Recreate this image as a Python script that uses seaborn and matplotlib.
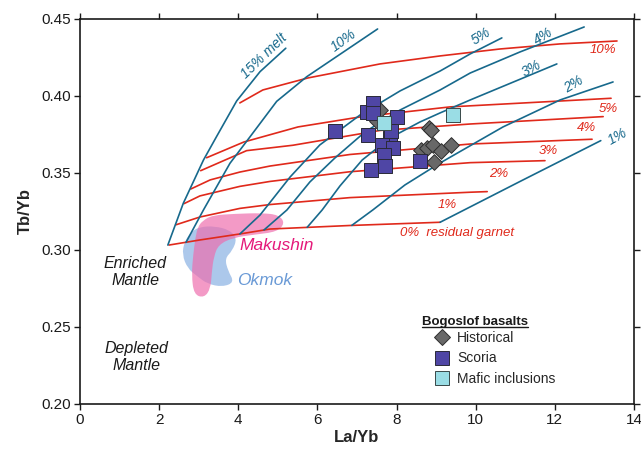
import numpy as np
import pandas as pd
import matplotlib
matplotlib.use("Agg")
import matplotlib.pyplot as plt
from matplotlib.path import Path
from matplotlib.patches import PathPatch
from matplotlib.lines import Line2D
from matplotlib.ticker import FormatStrFormatter, MultipleLocator
import seaborn as sns

# ---------------- melting-model grid ----------------
# curves of constant degree of melting (La/Yb, Tb/Yb)
melt15_x = [2.22, 2.61, 3.12, 3.45, 3.96, 4.55, 5.20]
melt15_y = [0.3032, 0.3303, 0.3584, 0.3736, 0.3968, 0.4158, 0.4310]
melt10_x = [2.68, 3.12, 3.79, 4.30, 4.97, 5.73, 7.52]
melt10_y = [0.3050, 0.3260, 0.3563, 0.3736, 0.3965, 0.4125, 0.4435]
melt5_x = [4.04, 4.55, 5.31, 6.06, 7.08, 8.09, 9.10, 9.86, 10.66]
melt5_y = [0.3104, 0.3227, 0.3474, 0.3682, 0.3877, 0.4033, 0.4162, 0.4273, 0.4377]
melt4_x = [4.65, 5.23, 5.81, 6.44, 7.20, 8.09, 9.10, 9.86, 11.12, 12.74]
melt4_y = [0.3130, 0.3260, 0.3442, 0.3597, 0.3766, 0.3909, 0.4039, 0.4149, 0.4286, 0.4448]
melt3_x = [5.74, 6.12, 6.57, 7.13, 7.83, 8.59, 9.10, 9.86, 12.05]
melt3_y = [0.3147, 0.3260, 0.3416, 0.3584, 0.3727, 0.3831, 0.3890, 0.3974, 0.4208]
melt2_x = [6.87, 7.40, 8.21, 9.10, 10.69, 12.13, 13.47]
melt2_y = [0.3160, 0.3260, 0.3422, 0.3565, 0.3799, 0.3974, 0.4091]
melt1_x = [9.10, 11.12, 13.16]
melt1_y = [0.3180, 0.3445, 0.3710]

# curves of constant residual garnet
gt0_x = [2.25, 3.03, 4.04, 4.80, 6.82, 9.10]
gt0_y = [0.3032, 0.3065, 0.3104, 0.3136, 0.3159, 0.3180]
gt1_x = [2.43, 3.03, 4.04, 4.80, 6.82, 9.86, 10.29]
gt1_y = [0.3164, 0.3214, 0.3270, 0.3295, 0.3340, 0.3375, 0.3379]
gt2_x = [2.63, 3.03, 4.04, 4.80, 6.82, 9.86, 11.75]
gt2_y = [0.3301, 0.3351, 0.3413, 0.3445, 0.3508, 0.3567, 0.3580]
gt3_x = [2.80, 3.29, 4.04, 4.80, 6.82, 9.86, 12.94]
gt3_y = [0.3396, 0.3455, 0.3506, 0.3545, 0.3620, 0.3688, 0.3719]
gt4_x = [3.05, 4.21, 5.38, 7.58, 9.86, 13.22]
gt4_y = [0.3515, 0.3645, 0.3680, 0.3776, 0.3818, 0.3866]
gt5_x = [3.20, 4.14, 5.51, 7.08, 9.35, 13.42]
gt5_y = [0.3599, 0.3701, 0.3799, 0.3864, 0.3929, 0.3985]
gt10_x = [4.04, 4.62, 5.76, 7.58, 9.10, 10.61, 12.13, 13.57]
gt10_y = [0.3955, 0.4039, 0.4117, 0.4208, 0.4260, 0.4305, 0.4338, 0.4357]

# ---------------- fields of other Aleutian volcanoes ----------------
okmok_x = [3.03, 3.40, 3.78, 3.97, 3.85, 3.66, 3.74, 3.90, 3.60, 3.22, 2.96, 2.72, 2.58, 2.64, 2.82]
okmok_y = [0.3150, 0.3155, 0.3130, 0.3075, 0.2995, 0.2945, 0.2865, 0.2790, 0.2760, 0.2780, 0.2830, 0.2880, 0.2970, 0.3055, 0.3120]
makushin_x = [3.10, 3.34, 3.92, 4.60, 5.02, 5.18, 4.98, 4.42, 3.87, 3.50, 3.38, 3.33, 3.30, 3.14, 2.88, 2.82, 2.86, 2.92, 2.98]
makushin_y = [0.3190, 0.3225, 0.3235, 0.3240, 0.3228, 0.3175, 0.3118, 0.3100, 0.3080, 0.3035, 0.2955, 0.2855, 0.2750, 0.2690, 0.2710, 0.2838, 0.2968, 0.3085, 0.3150]

# ---------------- Bogoslof basalts ----------------
hist_la = [7.58, 7.50, 8.82, 8.88, 8.62, 8.77, 8.92, 9.12, 9.38, 8.95]
hist_tb = [0.391, 0.384, 0.379, 0.378, 0.365, 0.366, 0.368, 0.364, 0.368, 0.357]
scoria_la = [6.44, 7.25, 7.41, 7.41, 8.00, 7.29, 7.83, 7.62, 7.92, 7.67, 7.71, 7.35, 8.59, 7.85]
scoria_tb = [0.3773, 0.3898, 0.3957, 0.3888, 0.3866, 0.3747, 0.3725, 0.3682, 0.3660, 0.3617, 0.3545, 0.3519, 0.3580, 0.3770]
mafic_la = [7.68, 9.43]
mafic_tb = [0.3827, 0.3879]

BLUE = "#17698C"
RED = "#E0291B"
SCORIA = "#4F46A5"
HIST = "#686868"
MAFIC = "#9ADDE5"
INK = "#1A1A1A"

sns.set_theme(style="ticks")
plt.rcParams["font.family"] = ["Liberation Sans", "DejaVu Sans"]

fig = plt.figure(figsize=(6.41, 4.57), dpi=100)
ax = fig.add_axes([0.1248, 0.1160, 0.8643, 0.8425])


def smooth_blob(xs, ys, color, alpha, z):
    pts = np.column_stack([xs, ys])
    mids = (pts + np.roll(pts, -1, axis=0)) / 2.0
    verts = [mids[-1]]
    codes = [Path.MOVETO]
    for i in range(len(pts)):
        verts += [pts[i], mids[i]]
        codes += [Path.CURVE3, Path.CURVE3]
    patch = PathPatch(Path(verts, codes), facecolor=color, edgecolor="none",
                      alpha=alpha, zorder=z)
    ax.add_patch(patch)


smooth_blob(okmok_x, okmok_y, "#8DB3E4", 0.72, 1)
smooth_blob(makushin_x, makushin_y, "#EE6BAC", 0.68, 1.1)


def long_frame(curves):
    frames = []
    for name, xs, ys in curves:
        frames.append(pd.DataFrame({"La/Yb": xs, "Tb/Yb": ys, "curve": name}))
    return pd.concat(frames, ignore_index=True)


melt_df = long_frame([
    ("15%", melt15_x, melt15_y), ("10%", melt10_x, melt10_y),
    ("5%", melt5_x, melt5_y), ("4%", melt4_x, melt4_y),
    ("3%", melt3_x, melt3_y), ("2%", melt2_x, melt2_y),
    ("1%", melt1_x, melt1_y),
])
garnet_df = long_frame([
    ("0%", gt0_x, gt0_y), ("1%", gt1_x, gt1_y), ("2%", gt2_x, gt2_y),
    ("3%", gt3_x, gt3_y), ("4%", gt4_x, gt4_y), ("5%", gt5_x, gt5_y),
    ("10%", gt10_x, gt10_y),
])

sns.lineplot(data=garnet_df, x="La/Yb", y="Tb/Yb", units="curve", estimator=None,
             sort=False, color=RED, lw=1.2, ax=ax, legend=False, zorder=2)
sns.lineplot(data=melt_df, x="La/Yb", y="Tb/Yb", units="curve", estimator=None,
             sort=False, color=BLUE, lw=1.2, ax=ax, legend=False, zorder=2.1)

sns.scatterplot(x=hist_la, y=hist_tb, marker="D", s=64, color=HIST,
                edgecolor="#2E2E2E", linewidth=0.7, ax=ax, zorder=4)
sns.scatterplot(x=scoria_la, y=scoria_tb, marker="s", s=90, color=SCORIA,
                edgecolor="#2A2A38", linewidth=0.7, ax=ax, zorder=5)
sns.scatterplot(x=mafic_la, y=mafic_tb, marker="s", s=90, color=MAFIC,
                edgecolor="#394848", linewidth=0.7, ax=ax, zorder=6)

# melt-fraction labels
for txt, x, y, rot in [("15% melt", 4.65, 0.4262, 44), ("10%", 6.67, 0.4359, 36),
                       ("5%", 10.13, 0.4390, 32), ("4%", 11.72, 0.4390, 32),
                       ("3%", 11.42, 0.4180, 29), ("2%", 12.48, 0.4078, 31),
                       ("1%", 13.58, 0.3736, 29)]:
    ax.text(x, y, txt, color=BLUE, fontsize=10, style="italic", rotation=rot,
            rotation_mode="anchor", ha="center", va="center", zorder=7)

# residual garnet labels
for txt, x, y in [("10%", 13.22, 0.4299), ("5%", 13.34, 0.3916), ("4%", 12.79, 0.3792),
                  ("3%", 11.83, 0.3643), ("2%", 10.59, 0.3494), ("1%", 9.27, 0.3292)]:
    ax.text(x, y, txt, color=RED, fontsize=9.5, style="italic",
            ha="center", va="center", zorder=7)
ax.text(8.09, 0.3110, "0%  residual garnet", color=RED, fontsize=9.5, style="italic",
        ha="left", va="center", zorder=7)

ax.text(4.04, 0.3026, "Makushin", color="#E5197A", fontsize=12.5, style="italic",
        ha="left", va="center", zorder=7)
ax.text(3.97, 0.2805, "Okmok", color="#6A9AD6", fontsize=12.5, style="italic",
        ha="left", va="center", zorder=7)
ax.text(1.40, 0.2855, "Enriched\nMantle", color=INK, fontsize=11.5, style="italic",
        ha="center", va="center", linespacing=1.15)
ax.text(1.43, 0.2305, "Depleted\nMantle", color=INK, fontsize=11.5, style="italic",
        ha="center", va="center", linespacing=1.15)

# legend
title = ax.text(8.64, 0.2533, "Bogoslof basalts", fontsize=9.5, fontweight="bold",
                ha="left", va="center", color=INK)
handles = [
    Line2D([], [], marker="D", ls="none", markersize=8.0, mfc=HIST, mec="#2E2E2E", mew=0.7),
    Line2D([], [], marker="s", ls="none", markersize=9.4, mfc=SCORIA, mec="#2A2A38", mew=0.7),
    Line2D([], [], marker="s", ls="none", markersize=9.4, mfc=MAFIC, mec="#394848", mew=0.7),
]
ax.legend(handles, ["Historical", "Scoria", "Mafic inclusions"], loc="upper left",
          bbox_to_anchor=(0.641, 0.189), frameon=False, fontsize=10, borderpad=0,
          borderaxespad=0, handlelength=1.0, handletextpad=0.6, labelspacing=0.45)

ax.set_xlim(0, 14)
ax.set_ylim(0.20, 0.45)
ax.xaxis.set_major_locator(MultipleLocator(2))
ax.yaxis.set_major_locator(MultipleLocator(0.05))
ax.yaxis.set_major_formatter(FormatStrFormatter("%.2f"))
ax.tick_params(direction="out", length=4.3, width=1.0, top=True, right=True,
               labeltop=False, labelright=False, labelsize=11, pad=2.5, colors=INK)
for sp in ax.spines.values():
    sp.set_linewidth(1.2)
    sp.set_color(INK)
ax.set_xlabel("La/Yb", fontsize=12, fontweight="bold", labelpad=2)
ax.set_ylabel("Tb/Yb", fontsize=12, fontweight="bold", labelpad=6)

# underline the legend heading
fig.canvas.draw()
bb = title.get_window_extent().transformed(fig.transFigure.inverted())
fig.add_artist(Line2D([bb.x0, bb.x1], [bb.y0 + 0.002, bb.y0 + 0.002],
                      transform=fig.transFigure, color=INK, lw=1.0))

fig.savefig("out.png", dpi=100)
